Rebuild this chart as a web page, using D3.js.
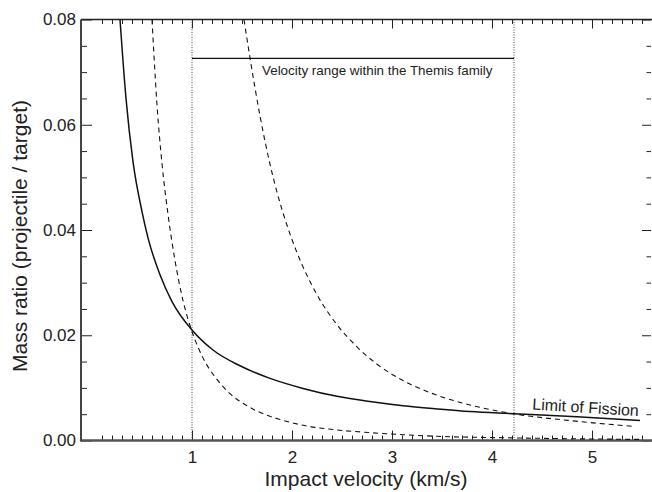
<!DOCTYPE html>
<html lang="en">
<head>
  <meta charset="UTF-8" />
  <title>Mass ratio vs impact velocity</title>
  <script src="https://cdn.jsdelivr.net/npm/d3@7"></script>
  <style>
    html, body { margin: 0; padding: 0; background: #fff; }
    svg { display: block; }
    text { font-family: "Liberation Sans", Arial, sans-serif; fill: #222; }
  </style>
</head>
<body>
  <script>
    // Values
    const fissionV = [0.28, 0.34, 0.41, 0.50, 0.56, 0.68, 0.80, 1.00, 1.21, 1.48, 1.78, 2.11, 2.45, 2.78, 3.11, 3.45, 3.78, 4.21, 4.85, 5.48];
    const fissionM = [0.0800, 0.0650, 0.0530, 0.0435, 0.0385, 0.0315, 0.0264, 0.0210, 0.0172, 0.0142, 0.0118, 0.0099, 0.0084, 0.0074, 0.0066, 0.0060, 0.0055, 0.0051, 0.0045, 0.0038];

    const lowV = [0.60, 0.65, 0.70, 0.76, 0.83, 0.91, 1.00, 1.11, 1.25, 1.38, 1.55, 1.75, 1.88, 2.11, 2.45, 2.78, 3.11, 3.45, 4.20, 5.50];
    const lowM = [0.0800, 0.0638, 0.0526, 0.0430, 0.0342, 0.0266, 0.0207, 0.0157, 0.0116, 0.0089, 0.0066, 0.0048, 0.0040, 0.0029, 0.0020, 0.0015, 0.0011, 0.0008, 0.0005, 0.0002];

    const highV = [1.52, 1.58, 1.68, 1.78, 1.85, 1.95, 2.05, 2.25, 2.45, 2.65, 2.85, 3.11, 3.45, 3.75, 3.88, 4.21, 4.88, 5.41];
    const highM = [0.0800, 0.0727, 0.0617, 0.0525, 0.0472, 0.0409, 0.0357, 0.0277, 0.0220, 0.0178, 0.0145, 0.0114, 0.0086, 0.0069, 0.0063, 0.0051, 0.0036, 0.0027];

    const themisRange = [1.0, 4.22];   // km/s, dotted verticals
    const themisLevel = 0.0726;        // height of the range bar
    const xMajor = [1, 2, 3, 4, 5];
    const yMajor = [0, 0.02, 0.04, 0.06, 0.08];

    const width = 652, height = 492;
    const pLeft = 81, pRight = 651, pTop = 19.5, pBottom = 440.5;

    const svg = d3.select("body").append("svg")
      .attr("width", width)
      .attr("height", height);

    const x = d3.scaleLinear().domain([-0.11, 5.59]).range([pLeft, pRight]);
    const y = d3.scaleLinear().domain([0, 0.08]).range([pBottom, pTop]);

    const xMinor = d3.range(1, 56).map(i => i / 10).filter(v => !xMajor.some(m => Math.abs(m - v) < 1e-9));
    const yMinor = d3.range(1, 16).map(i => i * 0.005).filter(v => !yMajor.some(m => Math.abs(m - v) < 1e-9));

    // ticks on all four sides, pointing inward
    function ticks(axisFn, scale, vals, size, tx, ty, labels) {
      const a = axisFn(scale).tickValues(vals).tickSize(-size).tickSizeOuter(0);
      if (labels) a.tickFormat(labels); else a.tickFormat("");
      const g = svg.append("g").attr("transform", `translate(${tx},${ty})`).call(a);
      g.select(".domain").remove();
      g.selectAll("line").attr("stroke", "#222").attr("stroke-width", 1);
      return g;
    }

    const fmtY = d3.format(".2f");
    const gx = ticks(d3.axisBottom, x, xMajor, 10, 0, pBottom, d => d);
    gx.selectAll("text").attr("font-size", 17).attr("y", 10);
    ticks(d3.axisBottom, x, xMinor, 5, 0, pBottom);
    ticks(d3.axisTop, x, xMajor, 9, 0, pTop);
    ticks(d3.axisTop, x, xMinor, 4.5, 0, pTop);

    const gy = ticks(d3.axisLeft, y, yMajor, 11, pLeft, 0, fmtY);
    gy.selectAll("text").attr("font-size", 17).attr("x", -5);
    ticks(d3.axisLeft, y, yMinor, 6, pLeft, 0);
    ticks(d3.axisRight, y, yMajor, 9, pRight, 0);
    ticks(d3.axisRight, y, yMinor, 4.5, pRight, 0);

    // frame
    svg.append("line").attr("x1", pLeft).attr("x2", pRight + 1).attr("y1", pTop).attr("y2", pTop)
      .attr("stroke", "#222").attr("stroke-width", 1.5);
    svg.append("line").attr("x1", pLeft).attr("x2", pRight + 1).attr("y1", pBottom).attr("y2", pBottom)
      .attr("stroke", "#555").attr("stroke-width", 2.5);
    svg.append("line").attr("x1", pLeft).attr("x2", pLeft).attr("y1", pTop).attr("y2", pBottom + 1)
      .attr("stroke", "#444").attr("stroke-width", 2);

    // Themis velocity range
    themisRange.forEach(v => {
      svg.append("line")
        .attr("x1", x(v)).attr("x2", x(v))
        .attr("y1", pTop).attr("y2", pBottom)
        .attr("stroke", "#444").attr("stroke-width", 1)
        .attr("stroke-dasharray", "1,1.5");
    });
    svg.append("line")
      .attr("x1", x(themisRange[0])).attr("x2", x(themisRange[1]))
      .attr("y1", y(themisLevel)).attr("y2", y(themisLevel))
      .attr("stroke", "#111").attr("stroke-width", 1.2);
    svg.append("text")
      .attr("x", 262).attr("y", y(themisLevel) + 16.5)
      .attr("font-size", 13.4)
      .text("Velocity range within the Themis family");

    // curves
    const line = d3.line()
      .x(d => x(d[0]))
      .y(d => y(d[1]))
      .curve(d3.curveMonotoneX);

    svg.append("clipPath").attr("id", "plot-clip")
      .append("rect").attr("x", pLeft).attr("y", pTop).attr("width", pRight - pLeft).attr("height", pBottom - pTop);

    const curves = [
      { v: fissionV, m: fissionM, dash: null, w: 1.5 },
      { v: lowV, m: lowM, dash: "5,4", w: 1.1 },
      { v: highV, m: highM, dash: "5,4", w: 1.1 }
    ];
    curves.forEach(c => {
      svg.append("path")
        .attr("clip-path", "url(#plot-clip)")
        .attr("d", line(d3.zip(c.v, c.m)))
        .attr("fill", "none")
        .attr("stroke", "#111")
        .attr("stroke-width", c.w)
        .attr("stroke-dasharray", c.dash);
    });

    svg.append("text")
      .attr("transform", "translate(532,409.5) rotate(3.5)")
      .attr("font-size", 16)
      .text("Limit of Fission");

    // axis titles
    svg.append("text")
      .attr("x", 366).attr("y", 486)
      .attr("text-anchor", "middle")
      .attr("font-size", 21)
      .text("Impact velocity (km/s)");
    svg.append("text")
      .attr("transform", "translate(27,236) rotate(-90)")
      .attr("text-anchor", "middle")
      .attr("font-size", 21)
      .text("Mass ratio (projectile / target)");
  </script>
</body>
</html>
